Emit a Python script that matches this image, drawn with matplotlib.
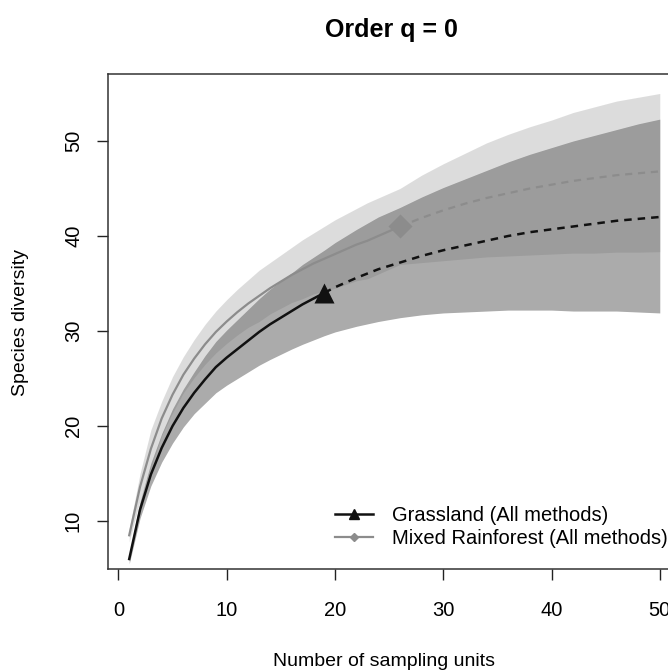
import matplotlib
matplotlib.use("Agg")
import matplotlib.pyplot as plt
from matplotlib.lines import Line2D

plt.rcParams['font.family'] = ['Liberation Sans', 'DejaVu Sans']

# Grassland (All methods): observed 1..19, extrapolated to 50
grass_x = [1, 2, 3, 4, 5, 6, 7, 8, 9, 10, 11, 12, 13, 14, 15, 16, 17, 18, 19,
           20, 22, 24, 26, 28, 30, 32, 34, 36, 38, 40, 42, 44, 46, 48, 50]
grass_est = [6.0, 11.2, 14.9, 17.7, 20.0, 21.9, 23.5, 24.9, 26.2, 27.2, 28.1, 29.0, 29.9, 30.7, 31.4,
             32.1, 32.8, 33.4, 34.0,
             34.6, 35.6, 36.5, 37.2, 37.9, 38.5, 39.0, 39.5, 40.0, 40.4, 40.7, 41.0, 41.3, 41.6, 41.8, 42.0]
grass_lo = [5.5, 10.3, 13.7, 16.2, 18.2, 19.9, 21.3, 22.4, 23.5, 24.3, 25.0, 25.7, 26.4, 27.0, 27.55,
            28.1, 28.6, 29.05, 29.5,
            29.9, 30.5, 31.0, 31.4, 31.7, 31.9, 32.0, 32.1, 32.2, 32.2, 32.2, 32.1, 32.1, 32.1, 32.0, 31.9]
grass_hi = [6.5, 12.1, 16.1, 19.2, 21.8, 23.9, 25.7, 27.4, 28.9, 30.1, 31.2, 32.3, 33.4, 34.4, 35.25,
            36.1, 37.0, 37.75, 38.5,
            39.3, 40.7, 42.0, 43.0, 44.1, 45.1, 46.0, 46.9, 47.8, 48.6, 49.3, 50.0, 50.6, 51.2, 51.8, 52.3]
grass_n_obs = 19

# Mixed Rainforest (All methods): observed 1..26, extrapolated to 50
mixed_x = [1, 2, 3, 4, 5, 6, 7, 8, 9, 10, 11, 12, 13, 14, 15, 16, 17, 18, 19, 20, 21, 22, 23, 24, 25, 26,
           28, 30, 32, 34, 36, 38, 40, 42, 44, 46, 48, 50]
mixed_est = [8.5, 13.6, 17.6, 20.8, 23.3, 25.4, 27.1, 28.6, 29.9, 31.0, 32.0, 32.9, 33.7, 34.5, 35.2,
             35.9, 36.5, 37.1, 37.6, 38.1, 38.6, 39.1, 39.5, 40.0, 40.5, 41.0,
             41.9, 42.7, 43.4, 44.0, 44.5, 45.0, 45.4, 45.8, 46.1, 46.4, 46.6, 46.8]
mixed_lo = [7.8, 12.2, 15.6, 19.0, 21.4, 23.5, 25.1, 26.5, 27.7, 28.7, 29.6, 30.4, 31.0, 31.8, 32.4,
            33.0, 33.4, 33.9, 34.2, 34.5, 34.9, 35.3, 35.5, 36.0, 36.5, 37.0,
            37.2, 37.4, 37.6, 37.8, 37.9, 38.0, 38.1, 38.2, 38.2, 38.3, 38.3, 38.35]
mixed_hi = [9.2, 15.0, 19.6, 22.6, 25.2, 27.3, 29.1, 30.7, 32.1, 33.3, 34.4, 35.4, 36.4, 37.2, 38.0,
            38.8, 39.6, 40.3, 41.0, 41.7, 42.3, 42.9, 43.5, 44.0, 44.5, 45.0,
            46.4, 47.6, 48.7, 49.8, 50.7, 51.5, 52.2, 53.0, 53.6, 54.2, 54.6, 55.0]
mixed_n_obs = 26

x_ticks = [0, 10, 20, 30, 40, 50]
y_ticks = [10, 20, 30, 40, 50]

fig = plt.figure(figsize=(6.68, 6.70), dpi=100)
ax = fig.add_axes([108 / 668, 1 - 569 / 670, 573 / 668, 495 / 670])

# confidence bands
ax.fill_between(grass_x, grass_lo, grass_hi, color='#808080', alpha=0.661, linewidth=0)
ax.fill_between(mixed_x, mixed_lo, mixed_hi, color='#696969', alpha=0.226, linewidth=0)

# curves: solid = rarefaction, dashed = extrapolation
gi = grass_x.index(grass_n_obs)
mi = mixed_x.index(mixed_n_obs)
mixed_col = '#8c8c8c'
ax.plot(mixed_x[:mi + 1], mixed_est[:mi + 1], color=mixed_col, lw=1.6)
ax.plot(mixed_x[mi:], mixed_est[mi:], color=mixed_col, lw=1.6, linestyle=(0, (3.2, 2.6)))
ax.plot(grass_x[:gi + 1], grass_est[:gi + 1], color='#111111', lw=1.8)
ax.plot(grass_x[gi:], grass_est[gi:], color='#111111', lw=1.8, linestyle=(0, (3.0, 2.4)))
ax.plot([mixed_x[mi]], [mixed_est[mi]], marker='D', ms=12, color=mixed_col, mec='none')
ax.plot([grass_x[gi]], [grass_est[gi]], marker='^', ms=15, color='#111111', mec='none')

ax.set_xlim(-0.96, 51.96)
ax.set_ylim(4.95, 57.05)
ax.set_xticks(x_ticks)
ax.set_yticks(y_ticks)
ax.tick_params(axis='both', length=8, width=1.0, color='#222222', labelsize=14.5, pad=10)
ax.tick_params(axis='x', pad=15)
for lab in ax.get_yticklabels():
    lab.set_rotation(90)
    lab.set_va('center')
for sp in ax.spines.values():
    sp.set_linewidth(1.1)
    sp.set_color('#333333')

handles = [
    Line2D([], [], color='#111111', lw=1.8, marker='^', ms=7),
    Line2D([], [], color=mixed_col, lw=1.6, marker='D', ms=4),
]
fig.legend(handles, ['Grassland (All methods)', 'Mixed Rainforest (All methods)'],
           loc='upper left', bbox_to_anchor=(335 / 668, 1 - 506 / 670), bbox_transform=fig.transFigure,
           frameon=False, fontsize=14.5, handlelength=1.9, handletextpad=0.95,
           borderpad=0, borderaxespad=0, labelspacing=0.2)

fig.text(391 / 668, 1 - 30 / 670, 'Order q = 0', ha='center', va='center', fontsize=18, fontweight='bold')
fig.text(384 / 668, 1 - 661 / 670, 'Number of sampling units', ha='center', va='center', fontsize=14)
fig.text(21 / 668, 1 - 322 / 670, 'Species diversity', ha='center', va='center', fontsize=14, rotation=90)

fig.savefig('out.png', dpi=100)
